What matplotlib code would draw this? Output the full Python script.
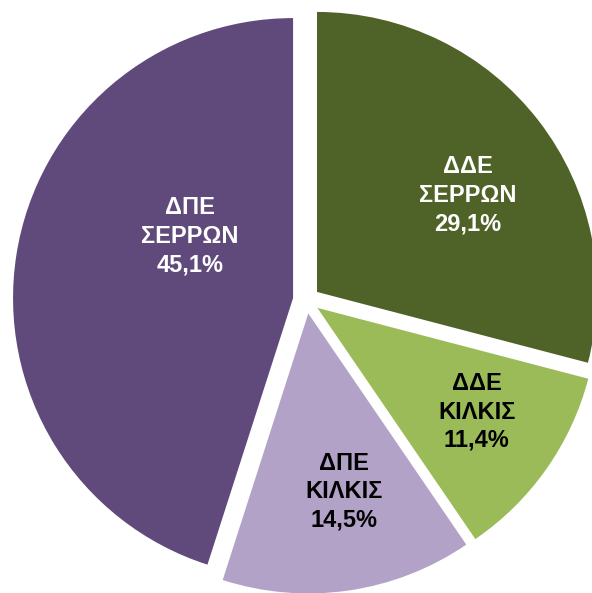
"""
Πίτα: κατανομή ανά διεύθυνση (Σέρρες / Κιλκίς)
"""
import numpy as np
import matplotlib
matplotlib.use("Agg")
import matplotlib.pyplot as plt

labels = ["ΔΔΕ\nΣΕΡΡΩΝ", "ΔΔΕ\nΚΙΛΚΙΣ", "ΔΠΕ\nΚΙΛΚΙΣ", "ΔΠΕ\nΣΕΡΡΩΝ"]
values = [29.1, 11.4, 14.5, 45.1]

_COLORS = ["#4f6228", "#9bbb59", "#b3a2c7", "#604a7b"]
_TEXT = ["white", "black", "black", "white"]
# θέση ετικέτας: απόσταση από κορυφή σφήνας και μετατόπιση γωνίας (μοίρες)
_LABEL_R = [0.64, 0.68, 0.65, 0.43]
_LABEL_DA = [-5, 2, 3, -22]

plt.rcParams["font.family"] = ["Liberation Sans", "DejaVu Sans"]

fig = plt.figure(figsize=(5.92, 5.93), dpi=100)
ax = fig.add_axes([0, 0, 1, 1])

wedges, _ = ax.pie(
    values, colors=_COLORS, startangle=90, counterclock=False,
    explode=[0.048] * len(values), radius=1.0,
)

for w, lab, v, c, r, da in zip(wedges, labels, values, _TEXT, _LABEL_R, _LABEL_DA):
    mid = np.deg2rad((w.theta1 + w.theta2) / 2 + da)
    cx, cy = w.center
    ax.text(cx + r * np.cos(mid), cy + r * np.sin(mid),
            f"{lab}\n{v:.1f}%".replace(".", ","),
            ha="center", va="center", color=c, fontsize=17,
            weight="bold", linespacing=1.3)

# το γράφημα κόβεται δεξιά όπως στο πρωτότυπο
ax.set_xlim(-1.094, 1.020)
ax.set_ylim(-1.046, 1.072)
ax.set_aspect("auto")
ax.axis("off")

fig.savefig("out.png", dpi=100, facecolor="white")
plt.close(fig)
